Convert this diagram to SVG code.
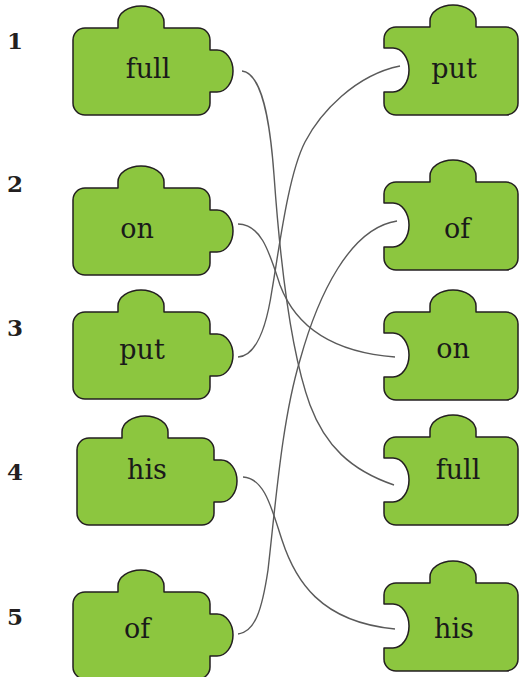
<svg xmlns="http://www.w3.org/2000/svg" width="520" height="677" viewBox="0 0 520 677">
<style>
.pc{fill:#8cc63f;stroke:#231f20;stroke-width:1.5;stroke-linejoin:round}
.w{font-family:"DejaVu Serif","Liberation Serif",serif;font-size:27px;fill:#1a1a1a;text-anchor:middle}
.n{font-family:"DejaVu Serif","Liberation Serif",serif;font-size:23px;font-weight:bold;fill:#231f20;text-anchor:middle}
.c{fill:none;stroke:#5a5a5a;stroke-width:1.4}
</style>
<defs>
<path id="lp" d="M12,0 H45 V-6 A23,16 0 0 1 91,-6 V0 H125 A12,12 0 0 1 137,12 V22 H144 A16,21 0 0 1 144,64 H137 V75 A12,12 0 0 1 125,87 H12 A12,12 0 0 1 0,75 V12 A12,12 0 0 1 12,0 Z"/>
<path id="rp" d="M12,0 H46 V-6 A23,16 0 0 1 92,-6 V0 H122 A12,12 0 0 1 134,12 V76 A12,12 0 0 1 122,88 H12 A12,12 0 0 1 0,76 V65 H9 A16,22 0 0 0 9,21 H0 V12 A12,12 0 0 1 12,0 Z"/>
</defs>
<g id="numbers">
<text class="n" x="15" y="49">1</text>
<text class="n" x="15" y="192">2</text>
<text class="n" x="15" y="336">3</text>
<text class="n" x="15" y="480">4</text>
<text class="n" x="15" y="625">5</text>
</g>
<g id="connectors">
<path class="c" d="M242,71 C262,73 270,120 274,175 C280,260 290,350 310,405 C325,445 350,470 394,485"/>
<path class="c" d="M238,224 C262,224 270,255 280,285 C295,325 330,352 395,357"/>
<path class="c" d="M238,357 C255,356 266,330 272,290 C279,250 288,175 305,142 C320,113 355,75 400,66"/>
<path class="c" d="M243,477 C265,478 272,510 282,540 C295,580 320,622 395,629"/>
<path class="c" d="M238,634 C255,632 262,610 268,570 C276,500 282,420 300,360 C318,295 350,228 397,221"/>
</g>
<g id="left-full"><use href="#lp" class="pc" x="73" y="28"/><text class="w" x="148" y="78">full</text></g>
<g id="left-on"><use href="#lp" class="pc" x="73" y="188"/><text class="w" x="137" y="238">on</text></g>
<g id="left-put"><use href="#lp" class="pc" x="73" y="312"/><text class="w" x="142" y="359">put</text></g>
<g id="left-his"><use href="#lp" class="pc" x="77" y="438"/><text class="w" x="147" y="479">his</text></g>
<g id="left-of"><use href="#lp" class="pc" x="73" y="592"/><text class="w" x="137" y="638">of</text></g>
<g id="right-put"><use href="#rp" class="pc" x="384" y="27"/><text class="w" x="454" y="78">put</text></g>
<g id="right-of"><use href="#rp" class="pc" x="384" y="182"/><text class="w" x="457" y="238">of</text></g>
<g id="right-on"><use href="#rp" class="pc" x="384" y="312"/><text class="w" x="453" y="358">on</text></g>
<g id="right-full"><use href="#rp" class="pc" x="384" y="437"/><text class="w" x="458" y="479">full</text></g>
<g id="right-his"><use href="#rp" class="pc" x="384" y="583"/><text class="w" x="454" y="638">his</text></g>
</svg>
